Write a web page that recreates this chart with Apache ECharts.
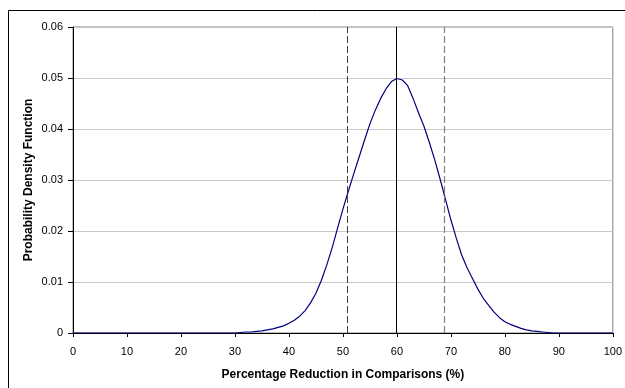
<!DOCTYPE html>
<html>
<head>
<meta charset="utf-8">
<script src="https://cdn.jsdelivr.net/npm/echarts@6/dist/echarts.min.js"></script>
<style>
html,body{margin:0;padding:0;background:#fff;}
#c{width:625px;height:388px;}
</style>
</head>
<body>
<div id="c"></div>
<script>
// Percentage reduction in comparisons (%)
const xValues = [0, 10, 20, 30,
  31, 32, 33, 34, 35, 36, 37, 38, 39, 40,
  41, 42, 43, 44, 45, 46, 47, 48, 49, 50,
  51, 52, 53, 54, 55, 56, 57, 58, 59, 60,
  61, 62, 63, 64, 65, 66, 67, 68, 69, 70,
  71, 72, 73, 74, 75, 76, 77, 78, 79, 80,
  81, 82, 83, 84, 85, 86, 87, 88, 89, 90, 100];
// Probability density function
const pdfValues = [0, 0, 0, 0,
  0.0001, 0.0002, 0.0002, 0.0003, 0.0004, 0.0006, 0.0008, 0.0011, 0.0014, 0.0019,
  0.0025, 0.0033, 0.0044, 0.0059, 0.0078, 0.0103, 0.0133, 0.0167, 0.0205, 0.0243,
  0.0278, 0.0312, 0.0345, 0.0378, 0.0410, 0.0437, 0.0460, 0.0479, 0.0493, 0.0499,
  0.0496, 0.0485, 0.0460, 0.0432, 0.0406, 0.0374, 0.0340, 0.0302, 0.0262, 0.0222,
  0.0186, 0.0153, 0.0128, 0.0107, 0.0086, 0.0068, 0.0054, 0.0041, 0.0030, 0.0022,
  0.0017, 0.0013, 0.0009, 0.0006, 0.0004, 0.0003, 0.0002, 0.0001, 0, 0, 0];
// Reference lines: lower bound, mean, upper bound
const lowerLine = 50.8;
const meanLine = 59.8;
const upperLine = 68.8;
const xTitle = 'Percentage Reduction in Comparisons (%)';
const yTitle = 'Probability Density Function';

const font = '"Liberation Sans", Arial, sans-serif';
const chart = echarts.init(document.getElementById('c'), null, {renderer: 'canvas'});
const seriesData = xValues.map((x, i) => [x, pdfValues[i]]);

chart.setOption({
  animation: false,
  backgroundColor: '#fff',
  textStyle: {fontFamily: font},
  graphic: [{
    type: 'rect', silent: true, z: -1,
    shape: {x: 8.5, y: 10.5, width: 700, height: 500},
    style: {fill: 'none', stroke: '#000', lineWidth: 1}
  }],
  grid: {left: 73, top: 27, right: 8, bottom: 55, show: true, borderColor: '#808080', borderWidth: 1, backgroundColor: 'transparent'},
  xAxis: {
    type: 'value', min: 0, max: 100, interval: 10,
    name: xTitle, nameLocation: 'middle', nameGap: 36, nameMoveOverlap: false,
    nameTextStyle: {fontFamily: font, fontSize: 12, fontWeight: 'bold', color: '#000'},
    axisLine: {show: true, onZero: false, lineStyle: {color: '#000', width: 1}},
    axisTick: {show: true, inside: false, length: 4, lineStyle: {color: '#000'}},
    axisLabel: {fontFamily: font, fontSize: 11, color: '#000', margin: 13},
    splitLine: {show: false}
  },
  yAxis: {
    type: 'value', min: 0, max: 0.06, interval: 0.01,
    name: yTitle, nameLocation: 'middle', nameGap: 38, nameRotate: 90, nameMoveOverlap: false,
    nameTextStyle: {fontFamily: font, fontSize: 12, fontWeight: 'bold', color: '#000'},
    axisLine: {show: true, lineStyle: {color: '#000', width: 1}},
    axisTick: {show: true, inside: false, length: 5, lineStyle: {color: '#000'}},
    axisLabel: {fontFamily: font, fontSize: 11, color: '#000', margin: 10,
      formatter: v => v === 0 ? '0' : v.toFixed(2)},
    splitLine: {show: true, lineStyle: {color: '#c8c8c8', width: 1}}
  },
  series: [{
    type: 'line',
    data: seriesData,
    showSymbol: false,
    smooth: false,
    lineStyle: {color: '#000080', width: 1.2},
    z: 3,
    markLine: {
      silent: true,
      symbol: ['none', 'none'],
      label: {show: false},
      emphasis: {disabled: true},
      data: [
        {xAxis: lowerLine, lineStyle: {type: [7, 3], color: '#404040', width: 1}},
        {xAxis: meanLine, lineStyle: {type: 'solid', color: '#000', width: 1}},
        {xAxis: upperLine, lineStyle: {type: [7, 3], color: '#808080', width: 1.2}}
      ]
    }
  }]
});
</script>
</body>
</html>
